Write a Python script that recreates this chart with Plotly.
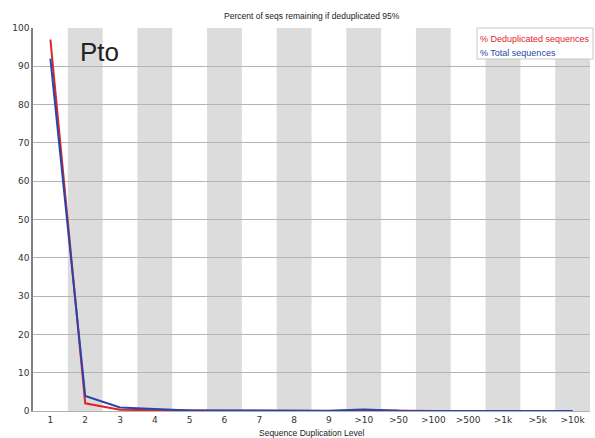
import plotly.graph_objects as go

categories = ["1", "2", "3", "4", "5", "6", "7", "8", "9", ">10", ">50", ">100", ">500", ">1k", ">5k", ">10k"]
dedup = [97.0, 2.0, 0.3, 0.2, 0.05, 0.05, 0.05, 0.02, 0.02, 0.2, 0.05, 0.02, 0.01, 0.01, 0.01, 0.01]
total = [92.0, 3.9, 0.9, 0.6, 0.15, 0.15, 0.12, 0.05, 0.05, 0.4, 0.08, 0.03, 0.02, 0.02, 0.02, 0.02]
title_text = "Percent of seqs remaining if deduplicated 95%"
sample_label = "Pto"

W, H = 595, 438
L, R, T, B = 33, 5, 28, 27

xs = list(range(len(categories)))
RED = "#e0242c"
BLUE = "#2a45a8"
SANS = "Liberation Sans, Arial, sans-serif"

fig = go.Figure()
fig.add_trace(go.Scatter(x=xs, y=dedup, mode="lines", line=dict(color=RED, width=2), name="% Deduplicated sequences"))
fig.add_trace(go.Scatter(x=xs, y=total, mode="lines", line=dict(color=BLUE, width=2), name="% Total sequences"))

shapes = []
for i in xs:
    if i % 2 == 1:
        shapes.append(dict(type="rect", xref="x", yref="paper", x0=i - 0.5, x1=i + 0.5, y0=0, y1=1,
                           fillcolor="#dcdcdc", line=dict(width=0), layer="below"))

pw = W - L - R
ph = H - T - B


def py(pix):
    return 1 - (pix - T) / ph


def px(pix):
    return (pix - L) / pw


shapes.append(dict(type="rect", xref="paper", yref="paper", x0=px(477), x1=px(593), y0=py(59), y1=py(28),
                   fillcolor="white", line=dict(color="#c8c8c8", width=1), layer="above"))

annotations = [
    dict(text=title_text, x=0.5, xref="paper", y=py(16), yref="paper", showarrow=False,
         font=dict(size=8.5, color="#222", family=SANS), xanchor="center", yanchor="middle"),
    dict(text="Sequence Duplication Level", x=0.5, xref="paper", y=py(433), yref="paper",
         showarrow=False, font=dict(size=8.5, color="#222", family=SANS), xanchor="center", yanchor="middle"),
    dict(text=sample_label, x=px(78), xref="paper", y=py(52), yref="paper", showarrow=False,
         font=dict(size=26, color="#222", family=SANS), xanchor="left", yanchor="middle"),
    dict(text="% Deduplicated sequences", x=px(478), xref="paper", y=py(39), yref="paper",
         showarrow=False, font=dict(size=9, color=RED, family=SANS), xanchor="left", yanchor="middle"),
    dict(text="% Total sequences", x=px(478), xref="paper", y=py(53), yref="paper",
         showarrow=False, font=dict(size=9, color=BLUE, family=SANS), xanchor="left", yanchor="middle"),
]

fig.update_layout(
    width=W, height=H,
    margin=dict(l=L, r=R, t=T, b=B),
    paper_bgcolor="white", plot_bgcolor="white",
    showlegend=False,
    shapes=shapes,
    annotations=annotations,
    font=dict(family="DejaVu Sans, Verdana, sans-serif", size=9, color="#333"),
    xaxis=dict(tickmode="array", tickvals=xs, ticktext=categories, range=[-0.5, len(categories) - 0.5],
               showgrid=False, zeroline=False, showline=True, linecolor="#b0b0b0", linewidth=1,
               ticks="", tickfont=dict(size=9, color="#333")),
    yaxis=dict(range=[0, 100], tickmode="array", tickvals=list(range(0, 101, 10)),
               showgrid=True, gridcolor="#b4b4b4", gridwidth=1, zeroline=False,
               showline=True, linecolor="#808080", linewidth=1.5, ticks="",
               tickfont=dict(size=9, color="#333")),
)

fig.write_html("out.html")
